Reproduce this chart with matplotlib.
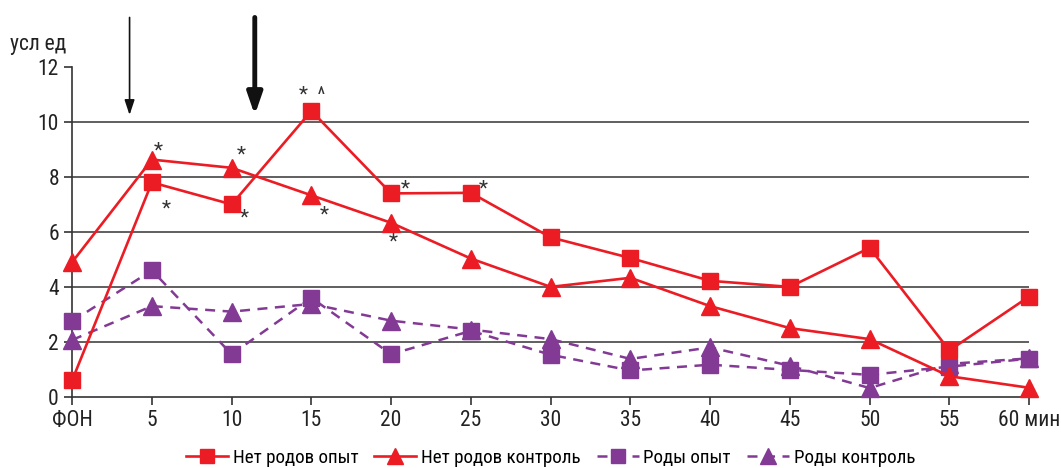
import matplotlib
matplotlib.use("Agg")
import matplotlib.pyplot as plt
from matplotlib import font_manager

# время, мин
minutes = [0, 5, 10, 15, 20, 25, 30, 35, 40, 45, 50, 55, 60]
tick_labels = ['ФОН', '5', '10', '15', '20', '25', '30', '35', '40', '45', '50', '55', '60 мин']

no_birth_exp = [0.6, 7.8, 7.0, 10.4, 7.4, 7.42, 5.8, 5.05, 4.22, 4.0, 5.42, 1.69, 3.65]
no_birth_ctrl = [4.9, 8.63, 8.33, 7.33, 6.33, 5.03, 4.0, 4.33, 3.3, 2.5, 2.1, 0.75, 0.33]
birth_exp = [2.75, 4.6, 1.55, 3.6, 1.55, 2.4, 1.53, 0.96, 1.17, 0.98, 0.8, 1.1, 1.39]
birth_ctrl = [2.07, 3.3, 3.1, 3.38, 2.77, 2.45, 2.1, 1.38, 1.8, 1.13, 0.32, 1.2, 1.4]

# звёздочки: (минуты, значение, текст, сдвиг в пунктах)
marks = [
    (5, 8.63, '*', (1, 6)),
    (5, 7.8, '*', (7, -19)),
    (10, 8.33, '*', (4, 9)),
    (10, 7.0, '*', (6, -10)),
    (15, 10.4, '*  ^', (-9, 11)),
    (15, 7.33, '*', (6, -14)),
    (20, 7.4, '*', (7, 3)),
    (20, 6.33, '*', (-2, -14)),
    (25, 7.42, '*', (6, 3)),
]

names = {f.name for f in font_manager.fontManager.ttflist}
font = 'DejaVu Sans'
for cand in ['Liberation Sans Narrow', 'Roboto Condensed', 'Open Sans Condensed',
             'DejaVu Sans Condensed']:
    if cand in names:
        font = cand
        break
plt.rcParams['font.family'] = [font, 'DejaVu Sans']
stretch = 'condensed' if font == 'DejaVu Sans' else 'normal'
plt.rcParams['font.stretch'] = stretch

red = '#ec1c24'
purple = '#823a94'

fig = plt.figure(figsize=(10.61, 4.68), dpi=100)
ax = fig.add_axes([0.068, 0.152, 0.902, 0.705])

ax.plot(minutes, no_birth_exp, color=red, lw=1.9, marker='s', ms=11.5,
        clip_on=False, zorder=5, label='Нет родов опыт')
ax.plot(minutes, no_birth_ctrl, color=red, lw=1.9, marker='^', ms=13,
        clip_on=False, zorder=5, label='Нет родов контроль')
ax.plot(minutes, birth_exp, color=purple, lw=1.8, ls=(0, (4, 3)), marker='s', ms=11.5,
        clip_on=False, zorder=4, label='Роды опыт')
ax.plot(minutes, birth_ctrl, color=purple, lw=1.8, ls=(0, (4, 3)), marker='^', ms=13,
        clip_on=False, zorder=4, label='Роды контроль')

for x, y, txt, off in marks:
    ax.annotate(txt, (x, y), xytext=off, textcoords='offset points',
                fontsize=15, color='#333333', ha='left', va='center')

ax.set_xlim(0, 60)
ax.set_ylim(0, 12)
ax.set_xticks(minutes)
ax.set_xticklabels(tick_labels)
ax.set_yticks(range(0, 13, 2))
ax.tick_params(labelsize=15.5, length=6, width=1.2, color='#333333', labelcolor='#222222')
for y in range(2, 12, 2):
    ax.axhline(y, color='#444444', lw=1.2, zorder=1)

for s in ['top', 'right']:
    ax.spines[s].set_visible(False)
for s in ['left', 'bottom']:
    ax.spines[s].set_color('#333333')
    ax.spines[s].set_linewidth(1.2)

# стрелки
ax.annotate('', xy=(3.6, 10.15), xytext=(3.6, 13.9), annotation_clip=False,
            arrowprops=dict(arrowstyle='-|>,head_length=0.9,head_width=0.3',
                            color='#111111', lw=1.2))
ax.annotate('', xy=(11.45, 10.15), xytext=(11.45, 13.9), annotation_clip=False,
            arrowprops=dict(arrowstyle='-|>,head_length=1.3,head_width=0.45',
                            color='#111111', lw=3.5))

fig.text(0.009, 0.905, 'усл ед', fontsize=15.5, color='#222222', ha='left', va='center')

ax.legend(loc='upper center', bbox_to_anchor=(0.5, -0.105), ncol=4, frameon=False,
          fontsize=13.7, handlelength=2.2, columnspacing=0.85, handletextpad=0.25,
          markerscale=0.85)

fig.savefig('out.png', dpi=100)
